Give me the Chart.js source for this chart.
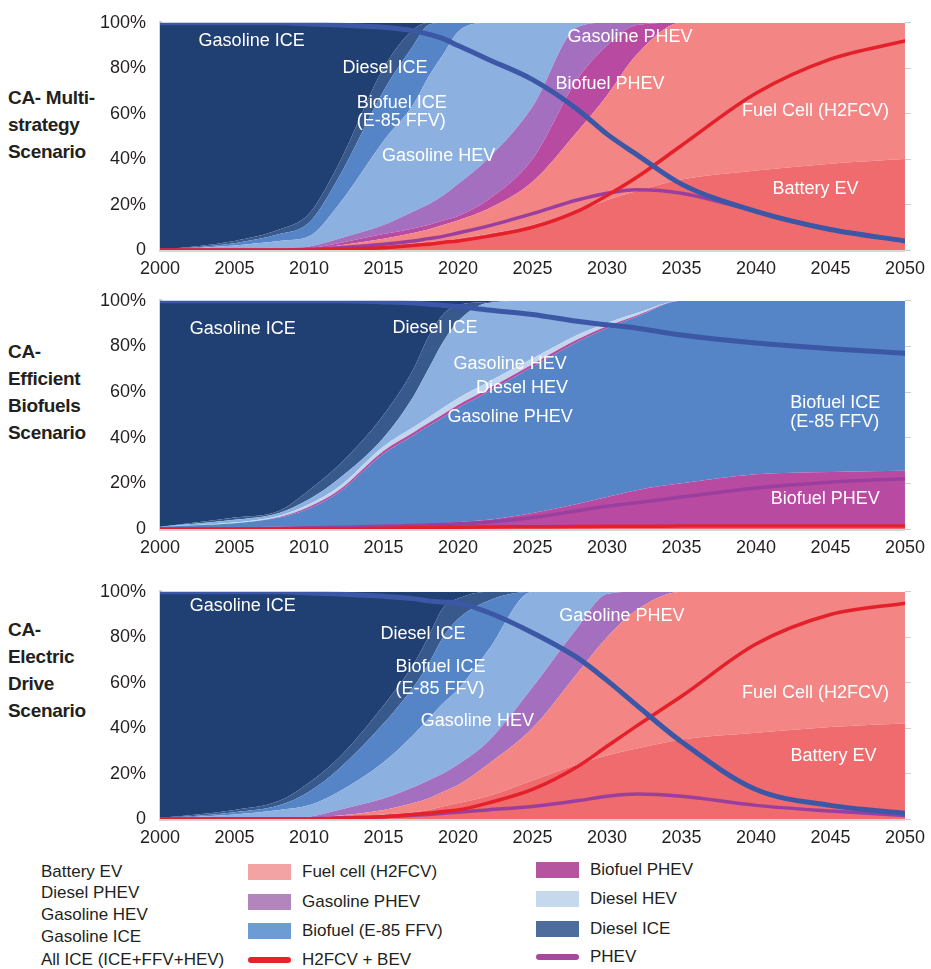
<!DOCTYPE html>
<html>
<head>
<meta charset="utf-8">
<script src="https://cdn.jsdelivr.net/npm/chart.js@4.4.0/dist/chart.umd.min.js"></script>
<style>
  body { margin: 0; background: #fff; font-family: "Liberation Sans", Arial, sans-serif; }
  #wrap { position: relative; width: 931px; height: 969px; overflow: hidden; }
  canvas.panel { position: absolute; left: 100px; }
  .title { position: absolute; left: 8px; font-weight: bold; font-size: 19px; line-height: 27px; color: #231f20; letter-spacing: -0.3px; }
  .leg { position: absolute; font-size: 17px; line-height: 20px; color: #231f20; white-space: nowrap; }
  .sw { position: absolute; }
</style>
</head>
<body>
<div id="wrap">
  <div class="title" style="top:84px">CA- Multi-<br>strategy<br>Scenario</div>
  <div class="title" style="top:338px">CA-<br>Efficient<br>Biofuels<br>Scenario</div>
  <div class="title" style="top:616px">CA-<br>Electric<br>Drive<br>Scenario</div>
  <canvas id="c1" class="panel" width="833" height="282" style="top:-2px"></canvas>
  <canvas id="c2" class="panel" width="833" height="283" style="top:276px"></canvas>
  <canvas id="c3" class="panel" width="833" height="282" style="top:567px"></canvas>
  <div id="legend"></div>
</div>
<script>
// shared x values (years) and tick labels
const years = [2000, 2005, 2008, 2010, 2012, 2015, 2017, 2018, 2019, 2020, 2022, 2025, 2028, 2030, 2032, 2035, 2040, 2045, 2050];
const yTickLabels = ['0', '20%', '40%', '60%', '80%', '100%'];

// CA- Multi-strategy scenario (shares in %)
const multiBatteryEV    = [0, 0, 0, 0.3, 1, 2, 3, 3.5, 4, 5, 7, 11, 17, 22, 26, 31, 35, 38, 40];
const multiFuelCell     = [0, 0, 0, 0.2, 1, 3, 4.5, 5.5, 7, 8, 11, 19, 35, 46, 60, 69, 65, 62, 60];
const multiBiofuelPHEV  = [0, 0, 0, 0.3, 1, 2, 2, 2, 2, 2, 4, 10, 23, 22, 13, 0, 0, 0, 0];
const multiGasolinePHEV = [0, 0, 0, 0.7, 2, 4, 7.5, 9, 11, 14, 18, 23, 23, 10, 1, 0, 0, 0, 0];
const multiGasolineHEV  = [0, 2, 4, 4.5, 15, 37, 47, 56, 62, 67, 60, 37, 2, 0, 0, 0, 0, 0, 0];
const multiBiofuelICE   = [0, 1, 3, 6, 12, 22, 26, 23, 14, 4, 0, 0, 0, 0, 0, 0, 0, 0, 0];
const multiDieselICE    = [0, 1, 2, 4, 6, 10, 7, 1, 0, 0, 0, 0, 0, 0, 0, 0, 0, 0, 0];
const multiGasolineICE  = [100, 96, 91, 84, 62, 20, 3, 0, 0, 0, 0, 0, 0, 0, 0, 0, 0, 0, 0];
const multiAllICE       = [100, 100, 100, 99.5, 99, 98, 96.5, 95, 93, 90, 84, 75, 62, 51, 42, 29, 17, 9, 4];
const multiH2BEV        = [0, 0, 0, 0, 0.3, 1, 2, 2.5, 3.3, 4, 6, 10, 17, 24, 32, 46, 69, 84, 92];
const multiPHEV         = [0, 0, 0, 0.3, 1, 2.5, 4, 5, 6, 7.5, 10.5, 16, 22, 25, 26.5, 25, 17, 9, 4];

// CA- Efficient Biofuels scenario
const bioBatteryEV    = [0, 0, 0, 0, 0, 0.3, 0.4, 0.5, 0.5, 0.5, 0.5, 0.6, 0.7, 0.8, 0.8, 0.8, 0.8, 0.8, 0.8];
const bioFuelCell     = [0, 0, 0, 0, 0, 0.2, 0.2, 0.3, 0.3, 0.4, 0.5, 0.5, 0.5, 0.5, 0.5, 0.5, 0.5, 0.5, 0.5];
const bioBiofuelPHEV  = [0.5, 0.8, 1, 1, 1.3, 1.1, 1.4, 1.4, 1.8, 2.1, 3, 5.9, 9.8, 12.7, 15.7, 18.7, 22.7, 23.7, 24.2];
const bioBiofuelICE   = [0.5, 1.7, 4, 8, 14.7, 31.4, 39, 42.8, 46.4, 50, 56, 64, 71, 74, 76, 80, 76, 75, 74.5];
const bioGasolinePHEV = [0, 0, 0.3, 0.8, 1, 1.2, 1.3, 1.3, 1.3, 1.3, 1.3, 1.2, 1, 0.8, 0.6, 0, 0, 0, 0];
const bioDieselHEV    = [0, 0.3, 0.5, 1, 1.5, 2, 2.3, 2.5, 2.8, 3, 3, 2.5, 2, 1.5, 1, 0, 0, 0, 0];
const bioGasolineHEV  = [0, 1.2, 1.2, 2.2, 3.5, 3.8, 13.4, 21.2, 28.9, 33.7, 34.7, 25.3, 15, 9.7, 5.4, 0, 0, 0, 0];
const bioDieselICE    = [0, 1, 1, 4, 6, 10, 12, 14, 12, 7, 0.5, 0, 0, 0, 0, 0, 0, 0, 0];
const bioGasolineICE  = [99, 95, 92, 83, 72, 50, 30, 16, 6, 2, 0.5, 0, 0, 0, 0, 0, 0, 0, 0];
const bioAllICE       = [100, 100, 100, 100, 100, 99.5, 99, 98.5, 98, 97.5, 96, 94, 91, 89.5, 88, 85, 81.5, 79, 77];
const bioH2BEV        = [0, 0, 0, 0, 0, 0.3, 0.5, 0.6, 0.7, 0.8, 0.9, 1, 1.1, 1.2, 1.2, 1.3, 1.3, 1.3, 1.3];
const bioPHEV         = [0, 0, 0.2, 0.5, 0.8, 1.2, 1.5, 1.8, 2, 2.3, 3, 5, 8, 10, 11.5, 14, 18, 20.5, 22];

// CA- Electric Drive scenario
const elecBatteryEV    = [0, 0, 0, 0, 0.5, 2, 3, 4, 5.5, 7, 10, 17, 24, 28, 31, 35, 38, 40.5, 42];
const elecFuelCell     = [0, 0, 0, 0.3, 1, 2, 4, 5, 6.5, 8, 14, 23, 40, 52, 61, 65, 62, 59.5, 58];
const elecGasolinePHEV = [0, 0, 0, 0.7, 2.5, 5, 7, 8, 8, 9, 10, 18, 20, 19, 8, 0, 0, 0, 0];
const elecGasolineHEV  = [0.2, 2, 4, 5, 8, 16, 23, 27, 31, 33, 40, 42, 16, 1, 0, 0, 0, 0, 0];
const elecBiofuelICE   = [0.1, 1, 2, 6, 10, 17, 21, 24, 29, 31, 22, 0, 0, 0, 0, 0, 0, 0, 0];
const elecDieselICE    = [0.2, 1, 2, 4, 5, 8, 10, 12, 13, 9, 4, 0, 0, 0, 0, 0, 0, 0, 0];
const elecGasolineICE  = [99.5, 96, 92, 84, 73, 50, 32, 20, 7, 3, 0, 0, 0, 0, 0, 0, 0, 0, 0];
const elecAllICE       = [100, 100, 100, 99.5, 99, 98, 97, 96, 95.5, 95, 91, 82, 71, 61, 50, 34, 13, 6, 2.5];
const elecH2BEV        = [0, 0, 0, 0, 0.3, 1, 2, 2.5, 3.3, 4, 7, 13, 23, 32, 41, 54, 77, 90, 95];
const elecPHEV         = [0, 0, 0, 0, 0.5, 1, 1.6, 2, 2.5, 3, 4, 5.5, 8, 10, 11, 10, 6, 3.5, 1.5];

const colors = {
  gasICE: '#203f73', dieselICE: '#38598c', bioICE: '#5585c7', gasHEV: '#8cb1e0',
  dieselHEV: '#c2d6ef', gasPHEV: '#a46fbe', bioPHEV: '#b84aa2', fuelCell: '#f38585',
  bev: '#ef6b6e', allICE: '#3c57a6', h2bev: '#e4202a', phev: '#9b3f9f'
};

function pts(vals) {
  return years.map((yr, i) => ({ x: yr, y: vals[i] }));
}

function makeChart(id, areas, lines, labels) {
  const datasets = [];
  areas.forEach((a, i) => {
    datasets.push({
      label: a[0], data: pts(a[1]), backgroundColor: a[2], borderWidth: 0,
      pointRadius: 0, fill: i === 0 ? 'origin' : '-1', yAxisID: 'y',
      cubicInterpolationMode: 'monotone'
    });
  });
  lines.forEach(l => {
    datasets.push({
      label: l[0], data: pts(l[1]), borderColor: l[2], borderWidth: l[3],
      pointRadius: 0, fill: false, yAxisID: 'yLine', order: -1,
      cubicInterpolationMode: 'monotone', borderCapStyle: 'round'
    });
  });

  const labelPlugin = {
    id: 'areaLabels',
    afterDatasetsDraw(chart) {
      const ctx = chart.ctx;
      const xs = chart.scales.x, ys = chart.scales.y;
      ctx.save();
      ctx.fillStyle = '#ffffff';
      ctx.font = '18px "Liberation Sans", Arial, sans-serif';
      ctx.textBaseline = 'middle';
      labels.forEach(lb => {
        ctx.textAlign = lb[3] || 'center';
        ctx.fillText(lb[0], xs.getPixelForValue(lb[1]), ys.getPixelForValue(lb[2]));
      });
      ctx.restore();
    }
  };

  const tickFont = { family: '"Liberation Sans", Arial, sans-serif', size: 18 };
  new Chart(document.getElementById(id), {
    type: 'line',
    data: { datasets },
    options: {
      responsive: false,
      animation: false,
      layout: { padding: { top: 8, right: 17, left: 0, bottom: 0 } },
      plugins: { legend: { display: false }, tooltip: { enabled: false } },
      scales: {
        x: {
          type: 'linear', min: 2000, max: 2050,
          grid: { color: 'transparent', drawTicks: false },
          border: { display: true, color: '#d6d6d6', width: 3 },
          ticks: { stepSize: 5, padding: 8, color: '#231f20', font: tickFont, callback: v => String(v) },
          afterFit: s => { s.height = 30; }
        },
        y: {
          stacked: true, min: 0, max: 100,
          grid: { color: 'transparent', drawTicks: false },
          border: { display: true, color: '#d6d6d6', width: 3 },
          ticks: { stepSize: 20, padding: 14, color: '#231f20', font: tickFont,
                   callback: (v, i) => yTickLabels[i] },
          afterFit: s => { s.width = 60; }
        },
        yLine: {
          position: 'right', min: 0, max: 100,
          grid: { drawOnChartArea: false, drawTicks: true, tickLength: 6, color: '#cfcfcf' },
          border: { display: false },
          ticks: { stepSize: 20, display: false },
          afterFit: s => { s.width = 8; }
        }
      }
    },
    plugins: [labelPlugin]
  });
}

makeChart('c1', [
  ['Battery EV', multiBatteryEV, colors.bev],
  ['Fuel cell (H2FCV)', multiFuelCell, colors.fuelCell],
  ['Biofuel PHEV', multiBiofuelPHEV, colors.bioPHEV],
  ['Gasoline PHEV', multiGasolinePHEV, colors.gasPHEV],
  ['Gasoline HEV', multiGasolineHEV, colors.gasHEV],
  ['Biofuel ICE', multiBiofuelICE, colors.bioICE],
  ['Diesel ICE', multiDieselICE, colors.dieselICE],
  ['Gasoline ICE', multiGasolineICE, colors.gasICE]
], [
  ['All ICE (ICE+FFV+HEV)', multiAllICE, colors.allICE, 5],
  ['H2FCV + BEV', multiH2BEV, colors.h2bev, 3.5],
  ['PHEV', multiPHEV, colors.phev, 3.5]
], [
  ['Gasoline ICE', 2006.15, 92],
  ['Diesel ICE', 2015.1, 80],
  ['Biofuel ICE', 2013.2, 64.9, 'left'],
  ['(E-85 FFV)', 2013.2, 56.9, 'left'],
  ['Gasoline HEV', 2018.7, 41.3],
  ['Gasoline PHEV', 2031.55, 93.8],
  ['Biofuel PHEV', 2030.2, 72.9],
  ['Fuel Cell (H2FCV)', 2044, 61.3],
  ['Battery EV', 2044, 26.7]
]);

makeChart('c2', [
  ['Battery EV', bioBatteryEV, colors.bev],
  ['Fuel cell (H2FCV)', bioFuelCell, colors.fuelCell],
  ['Biofuel PHEV', bioBiofuelPHEV, colors.bioPHEV],
  ['Biofuel ICE', bioBiofuelICE, colors.bioICE],
  ['Gasoline PHEV', bioGasolinePHEV, colors.bioPHEV],
  ['Diesel HEV', bioDieselHEV, colors.dieselHEV],
  ['Gasoline HEV', bioGasolineHEV, colors.gasHEV],
  ['Diesel ICE', bioDieselICE, colors.dieselICE],
  ['Gasoline ICE', bioGasolineICE, colors.gasICE]
], [
  ['All ICE (ICE+FFV+HEV)', bioAllICE, colors.allICE, 5],
  ['H2FCV + BEV', bioH2BEV, colors.h2bev, 3.5],
  ['PHEV', bioPHEV, colors.phev, 3.5]
], [
  ['Gasoline ICE', 2005.55, 87.6],
  ['Diesel ICE', 2018.45, 88.1],
  ['Gasoline HEV', 2023.5, 72.1],
  ['Diesel HEV', 2024.3, 61.9],
  ['Gasoline PHEV', 2023.5, 49.1],
  ['Biofuel ICE', 2042.3, 55.3, 'left'],
  ['(E-85 FFV)', 2042.3, 46.9, 'left'],
  ['Biofuel PHEV', 2044.65, 13.3]
]);

makeChart('c3', [
  ['Battery EV', elecBatteryEV, colors.bev],
  ['Fuel cell (H2FCV)', elecFuelCell, colors.fuelCell],
  ['Gasoline PHEV', elecGasolinePHEV, colors.gasPHEV],
  ['Gasoline HEV', elecGasolineHEV, colors.gasHEV],
  ['Biofuel ICE', elecBiofuelICE, colors.bioICE],
  ['Diesel ICE', elecDieselICE, colors.dieselICE],
  ['Gasoline ICE', elecGasolineICE, colors.gasICE]
], [
  ['All ICE (ICE+FFV+HEV)', elecAllICE, colors.allICE, 5],
  ['H2FCV + BEV', elecH2BEV, colors.h2bev, 3.5],
  ['PHEV', elecPHEV, colors.phev, 3.5]
], [
  ['Gasoline ICE', 2005.55, 93.8],
  ['Diesel ICE', 2017.65, 81.3],
  ['Biofuel ICE', 2015.8, 66.7, 'left'],
  ['(E-85 FFV)', 2015.8, 57.3, 'left'],
  ['Gasoline HEV', 2021.3, 43.1],
  ['Gasoline PHEV', 2031, 89.3],
  ['Fuel Cell (H2FCV)', 2044, 55.6],
  ['Battery EV', 2045.2, 27.6]
]);

// legend below the charts: [text, left, top, swatch type, swatch colour]
const legendItems = [
  ['Battery EV', 41, 862],
  ['Diesel PHEV', 41, 883],
  ['Gasoline HEV', 41, 905],
  ['Gasoline ICE', 41, 927],
  ['All ICE (ICE+FFV+HEV)', 41, 950],
  ['Fuel cell (H2FCV)', 302, 862, 'box', '#f4a3a4'],
  ['Gasoline PHEV', 302, 892, 'box', '#b385bd'],
  ['Biofuel (E-85 FFV)', 302, 921, 'box', '#6d9bd3'],
  ['H2FCV + BEV', 302, 950, 'line', '#e8212a'],
  ['Biofuel PHEV', 590, 860, 'box', '#b5549f'],
  ['Diesel HEV', 590, 889, 'box', '#c6d8ec'],
  ['Diesel ICE', 590, 919, 'box', '#4d6e9c'],
  ['PHEV', 590, 947, 'line', '#a8479c']
];
const legendEl = document.getElementById('legend');
legendItems.forEach(it => {
  const t = document.createElement('div');
  t.className = 'leg';
  t.style.left = it[1] + 'px';
  t.style.top = it[2] + 'px';
  t.textContent = it[0];
  legendEl.appendChild(t);
  if (it[3]) {
    const s = document.createElement('div');
    s.className = 'sw';
    const h = it[3] === 'box' ? 16 : 6;
    s.style.left = (it[1] - 54) + 'px';
    s.style.width = '43px';
    s.style.height = h + 'px';
    s.style.top = (it[2] + 10 - h / 2) + 'px';
    s.style.background = it[4];
    if (it[3] === 'line') s.style.borderRadius = '3px';
    legendEl.appendChild(s);
  }
});
</script>
</body>
</html>
